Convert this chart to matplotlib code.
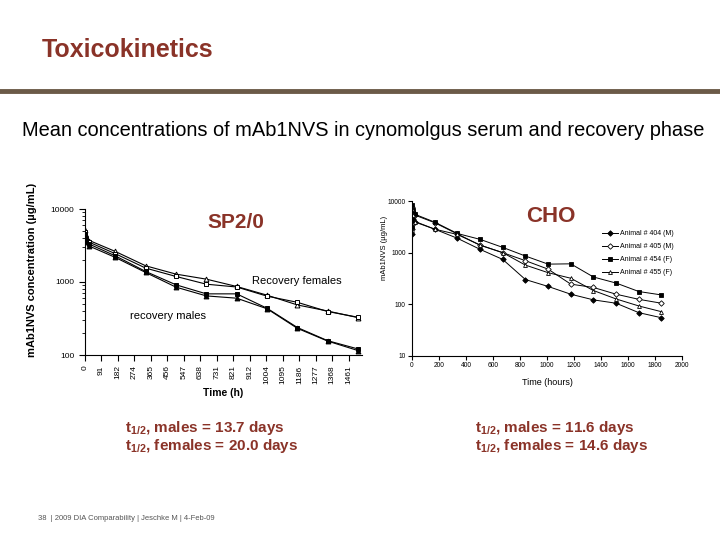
from matplotlib import pyplot as plt
from matplotlib.ticker import NullLocator, FixedLocator
import numpy as np

plt.rcParams['font.family'] = ['Liberation Sans', 'DejaVu Sans']
plt.rcParams['mathtext.fontset'] = 'custom'
plt.rcParams['mathtext.rm'] = 'Liberation Sans'
plt.rcParams['mathtext.it'] = 'Liberation Sans:italic'
plt.rcParams['mathtext.bf'] = 'Liberation Sans:bold'

RED = '#8a3328'

# SP2/0 (left) - hours
t_sp = [0.1, 2, 8, 24, 168, 336, 504, 672, 840, 1008, 1176, 1344, 1512]
fem_tri = [5200, 4700, 4200, 3700, 2620, 1667, 1282, 1094, 868, 660, 485, 400, 325]
fem_sq = [4900, 4400, 4000, 3500, 2440, 1550, 1191, 933, 854, 640, 527, 394, 329]
male_sq = [4600, 4100, 3700, 3300, 2280, 1394, 915, 688, 688, 437, 238, 157, 121]
male_tri = [4400, 3900, 3500, 3100, 2170, 1350, 850, 645, 600, 430, 232, 155, 115]
sp_ticklabels = ['0', '91', '182', '274', '365', '456', '547', '638', '731', '821',
                 '912', '1004', '1095', '1186', '1277', '1368', '1461']

# CHO (right) - hours
t_cho = [0.08, 2, 8, 24, 168, 336, 504, 672, 840, 1008, 1176, 1344, 1512, 1680, 1848]
a404 = [2300, 6500, 4500, 3900, 2850, 1900, 1160, 740, 302, 222, 157, 122, 105, 69, 55]
a405 = [2900, 7800, 6200, 5300, 3800, 2300, 1400, 1000, 700, 480, 246, 212, 157, 125, 105]
a454 = [3100, 8200, 6800, 5500, 3900, 2350, 1810, 1265, 861, 600, 608, 338, 258, 177, 152]
a455 = [2700, 7000, 5400, 4000, 2850, 2250, 1400, 1000, 575, 410, 320, 185, 127, 93, 72]
cho_names = ['Animal # 404 (M)', 'Animal # 405 (M)', 'Animal # 454 (F)', 'Animal # 455 (F)']

fig = plt.figure(figsize=(7.2, 5.4), dpi=100)

def fx(px):
    return px / 720

def fy(py):
    return 1 - py / 540

# header
fig.text(fx(42), fy(50), 'Toxicokinetics', fontsize=18, fontweight='bold', color=RED, va='center')
fig.add_artist(plt.Line2D([0, 1], [fy(90.5), fy(90.5)], color='#6b5a48', lw=3.5))
fig.text(fx(363), fy(130), 'Mean concentrations of mAb1NVS in cynomolgus serum and recovery phase',
         fontsize=14.4, ha='center', va='center')

# left chart
ax1 = fig.add_axes([fx(85), fy(355), fx(277), (355 - 209) / 540])
kw = dict(color='black', lw=0.8, ms=3.5, mew=0.7)
ax1.plot(t_sp, fem_tri, marker='^', mfc='white', **kw)
ax1.plot(t_sp, fem_sq, marker='s', mfc='white', **kw)
ax1.plot(t_sp, male_sq, marker='s', mfc='black', **kw)
ax1.plot(t_sp, male_tri, marker='^', mfc='black', **kw)
ax1.set_yscale('log')
ax1.set_ylim(100, 10000)
ax1.set_xlim(0, 1534)
ax1.xaxis.set_major_locator(FixedLocator([i * 1461 / 16 for i in range(17)]))
ax1.set_xticklabels(sp_ticklabels, rotation=90, fontsize=6)
ax1.tick_params(axis='y', labelsize=6, direction='out', length=4)
ax1.tick_params(axis='y', which='minor', length=2.5)
ax1.tick_params(axis='x', direction='out', length=4)
ax1.set_yticks([100, 1000, 10000])
ax1.set_yticklabels(['100', '1000', '10000'])
for s in ['top', 'right']:
    ax1.spines[s].set_visible(False)
ax1.set_xlabel('Time (h)', fontsize=7.5, fontweight='bold', labelpad=3)
fig.text(fx(32), fy(270), 'mAb1NVS concentration (µg/mL)', rotation=90, fontsize=8,
         fontweight='bold', ha='center', va='center')
fig.text(fx(236), fy(222), 'SP2/0', fontsize=15, fontweight='bold', color=RED, ha='center', va='center')
fig.text(fx(297), fy(281), 'Recovery females', fontsize=8, ha='center', va='center')
fig.text(fx(168), fy(316), 'recovery males', fontsize=8, ha='center', va='center')

# right chart
ax2 = fig.add_axes([fx(412), fy(356), fx(270), 155 / 540])
kw2 = dict(color='black', lw=0.7, ms=2.8, mew=0.6)
ax2.plot(t_cho, a404, marker='D', mfc='black', label=cho_names[0], **kw2)
ax2.plot(t_cho, a405, marker='D', mfc='white', label=cho_names[1], **kw2)
ax2.plot(t_cho, a454, marker='s', mfc='black', label=cho_names[2], **kw2)
ax2.plot(t_cho, a455, marker='^', mfc='white', label=cho_names[3], **kw2)
ax2.set_yscale('log')
ax2.set_ylim(10, 10000)
ax2.set_xlim(0, 2000)
ax2.set_xticks(np.arange(0, 2001, 200))
ax2.yaxis.set_minor_locator(NullLocator())
ax2.set_yticks([10, 100, 1000, 10000])
ax2.set_yticklabels(['10', '100', '1000', '10000'])
ax2.tick_params(labelsize=4.8, direction='out', length=3, pad=1.5)
for s in ['top', 'right']:
    ax2.spines[s].set_visible(False)
ax2.set_xlabel('Time (hours)', fontsize=6.5, labelpad=6)
fig.text(fx(384), fy(248), 'mAb1NVS (µg/mL)', rotation=90, fontsize=5.5, ha='center', va='center')
fig.text(fx(551), fy(217), 'CHO', fontsize=16, fontweight='bold', color=RED, ha='center', va='center')
ax2.legend(loc='upper left', bbox_to_anchor=(fx(596), fy(224)), bbox_transform=fig.transFigure,
           frameon=False, fontsize=5, handlelength=2.2, labelspacing=0.85, handletextpad=0.4)

# half-lives
fig.text(fx(125), fy(437), 't$_{\\mathbf{1/2}}$, males = 13.7 days\nt$_{\\mathbf{1/2}}$, females = 20.0 days',
         fontsize=11, fontweight='bold', color=RED, va='center', linespacing=1.0)
fig.text(fx(475), fy(437), 't$_{\\mathbf{1/2}}$, males = 11.6 days\nt$_{\\mathbf{1/2}}$, females = 14.6 days',
         fontsize=11, fontweight='bold', color=RED, va='center', linespacing=1.0)

fig.text(fx(38), fy(519), '38  | 2009 DIA Comparability | Jeschke M | 4-Feb-09', fontsize=5.5,
         color='#555555', va='center')

fig.savefig('out.png', dpi=100)
